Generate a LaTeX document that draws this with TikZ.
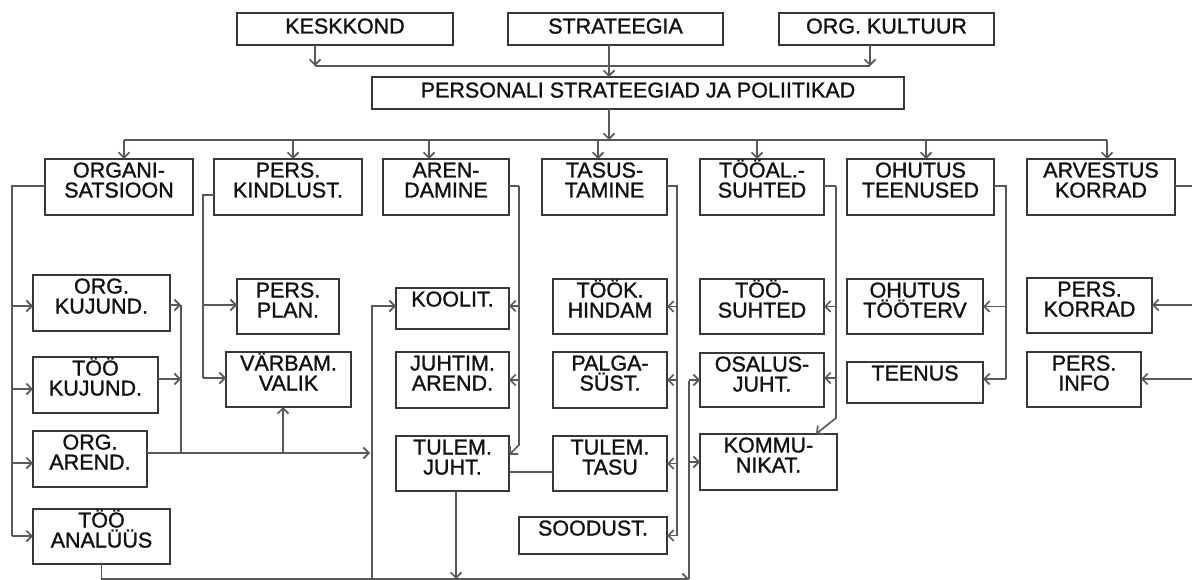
\documentclass[tikz,border=0pt]{standalone}
\usepackage{fontspec}
\setmainfont{Liberation Sans}[FakeBold=1.2]
\usetikzlibrary{arrows.meta}
\definecolor{framegray}{HTML}{383838}
\definecolor{wiregray}{HTML}{585858}
\definecolor{ink}{HTML}{121212}
\tikzset{
  boxframe/.style={draw=framegray, line width=2pt, inner sep=0pt, outer sep=0pt, anchor=north west},
  boxlabel/.style={font=\fontsize{21.5pt}{20pt}\selectfont, text=ink, align=center, inner sep=0pt, outer sep=0pt, anchor=north},
  wire/.style={draw=wiregray, line width=1.7pt},
  feed/.style={wire, -{Straight Barb[length=5.5pt,width=11pt]}},
}
% \chartbox{name}{x1}{y1}{x2}{y2}{line 1}{line 2}
\newcommand\labeldrop{18.5pt}
\newcommand\chartbox[7]{%
  \node[boxframe, minimum width={#4-#2}, minimum height={#5-#3}] (#1) at (#2,#3) {};
  \node[boxlabel] (#1t) at ([yshift=-\labeldrop]#1.north) {\smash{#6}\\\smash{#7}};}
\begin{document}
\begin{tikzpicture}[x=1pt,y=-1pt]
\clip (0,0) rectangle (1192,580);
\fill[white] (0,0) rectangle (1192,580);

% top level
\renewcommand\labeldrop{20.5pt}
\chartbox{kesk}{237}{13}{453}{45}{KESKKOND}{}
\chartbox{strat}{508}{13}{723}{45}{STRATEEGIA}{}
\chartbox{kult}{779}{13}{994}{45}{ORG. KULTUUR}{}
\chartbox{pers}{372}{77}{904}{109}{PERSONALI STRATEEGIAD JA POLIITIKAD}{}
\renewcommand\labeldrop{18.5pt}

% functional areas
\chartbox{org}{45}{159}{193}{215}{ORGANI-}{SATSIOON}
\chartbox{kind}{214}{159}{362}{215}{PERS.}{KINDLUST.}
\chartbox{aren}{383}{159}{509}{215}{AREN-}{DAMINE}
\chartbox{tasus}{542}{159}{667}{215}{TASUS-}{TAMINE}
\chartbox{tooal}{700}{159}{824}{215}{TÖÖAL.-}{SUHTED}
\chartbox{ohut}{847}{159}{994}{215}{OHUTUS}{TEENUSED}
\chartbox{arv}{1027}{159}{1175}{215}{ARVESTUS}{KORRAD}

% activities
\chartbox{kuj}{33}{275}{170}{331}{ORG.}{KUJUND.}
\chartbox{tkuj}{33}{357}{158}{413}{TÖÖ}{KUJUND.}
\chartbox{orgar}{33}{431}{147}{487}{ORG.}{AREND.}
\chartbox{ana}{33}{509}{170}{564}{TÖÖ}{ANALÜÜS}
\chartbox{plan}{237}{279}{339}{334}{PERS.}{PLAN.}
\chartbox{varb}{226}{352}{351}{407}{VÄRBAM.}{VALIK}
\chartbox{kool}{396}{288}{509}{329}{KOOLIT.}{}
\chartbox{juht}{396}{352}{509}{408}{JUHTIM.}{AREND.}
\chartbox{tjuht}{396}{436}{509}{491}{TULEM.}{JUHT.}
\chartbox{hind}{553}{279}{667}{334}{TÖÖK.}{HINDAM}
\chartbox{palk}{553}{352}{667}{408}{PALGA-}{SÜST.}
\chartbox{ttasu}{553}{436}{667}{491}{TULEM.}{TASU}
\chartbox{sood}{519}{517}{667}{554}{SOODUST.}{}
\chartbox{tsuht}{700}{279}{824}{334}{TÖÖ-}{SUHTED}
\chartbox{osal}{700}{353}{824}{407}{OSALUS-}{JUHT.}
\chartbox{komm}{700}{434}{837}{490}{KOMMU-}{NIKAT.}
\chartbox{tervis}{847}{279}{983}{334}{OHUTUS}{TÖÖTERV}
\chartbox{teen}{847}{362}{983}{403}{TEENUS}{}
\chartbox{pkor}{1027}{278}{1152}{333}{PERS.}{KORRAD}
\chartbox{pinfo}{1027}{352}{1141}{407}{PERS.}{INFO}

% inputs to the personnel strategy
\coordinate (kd) at (315,66);
\coordinate (kud) at (870,66);
\draw[feed] (kesk.south -| kd) -- (kd);
\draw[feed] (kult.south -| kud) -- (kud);
\draw[wire] (kd) -- (kud);
\draw[feed] ([xshift=-6.5pt]strat.south) -- ([xshift=-6.5pt]strat.south |- pers.north);

% distribution bus
\coordinate (bus) at (609,140);
\draw[feed] (pers.south -| bus) -- (bus);
\coordinate (b1) at (124,140);
\coordinate (b2) at (293,140);
\coordinate (b3) at (429,140);
\coordinate (b4) at (598,140);
\coordinate (b5) at (757,140);
\coordinate (b6) at (926,140);
\coordinate (b7) at (1107,140);
\draw[wire] (b1) -- (b7);
\foreach \b/\n in {b1/org,b2/kind,b3/aren,b4/tasus,b5/tooal,b6/ohut,b7/arv}
  \draw[feed] (\b) -- (\b |- \n.north);

% organisation branch
\coordinate (ot) at (12,186);
\draw[wire] (org.west |- ot) -- (ot) -- (ot |- 0,536);
\draw[feed] (ot |- 0,306) -- (kuj.west |- 0,306);
\draw[feed] (ot |- 0,389) -- (tkuj.west |- 0,389);
\draw[feed] (ot |- 0,463) -- (orgar.west |- 0,463);
\draw[feed] (ot |- 0,536) -- (ana.west |- 0,536);
\coordinate (kt) at (181,305);
\coordinate (oa) at (370,453);
\coordinate (vu) at (283,453);
\draw[feed] (kuj.east |- kt) -- (kt);
\draw[feed] (tkuj.east |- 0,379) -- (kt |- 0,379);
\draw[wire] (kt) -- (kt |- oa);
\draw[feed] (orgar.east |- oa) -- (oa);
\draw[feed] (vu) -- (vu |- varb.south);

% staffing branch
\coordinate (st2) at (203,195);
\draw[wire] (kind.west |- st2) -- (st2) -- (st2 |- 0,378);
\draw[feed] (st2 |- 0,305) -- (plan.west |- 0,305);
\draw[feed] (st2 |- 0,378) -- (varb.west |- 0,378);

% bottom return line
\coordinate (bl) at (372,579);
\coordinate (br) at (689,579);
\coordinate (tj) at (456,579);
\draw[feed] (ana.south) |- (br);
\draw[feed] (bl) |- (kool.west |- 0,306);
\draw[feed] (tj |- tjuht.south) -- (tj);
\draw[wire] (br) -- (br |- 0,381);
\draw[feed] (br |- osal.west) -- (osal.west);
\draw[feed] (br |- komm.west) -- (komm.west);

% development branch
\coordinate (at) at (519,186);
\draw[wire] (aren.east |- at) -- (at);
\draw[feed] (at) -- (at |- 0,445) -- (tjuht.east |- 0,455);
\draw[feed] (at |- 0,306) -- (kool.east |- 0,306);
\draw[feed] (at |- juht.east) -- (juht.east);
\draw[wire] (tjuht.east |- 0,472) -- (ttasu.west |- 0,472);

% reward branch
\coordinate (tt) at (677,186);
\draw[wire] (tasus.east |- tt) -- (tt) -- (tt |- sood.east);
\foreach \n in {hind,palk,ttasu,sood}
  \draw[feed] (tt |- \n.east) -- (\n.east);

% employee relations branch
\coordinate (rt1) at (836,186);
\draw[wire] (tooal.east |- rt1) -- (rt1);
\draw[feed] (rt1) -- (rt1 |- 0,418) -- (komm.north -| 816,0);
\draw[feed] (rt1 |- tsuht.east) -- (tsuht.east);
\draw[feed] (rt1 |- 0,378) -- (osal.east |- 0,378);

% health and safety branch
\coordinate (ht) at (1006,186);
\draw[wire] (ohut.east |- ht) -- (ht) -- (ht |- 0,379);
\draw[feed] (ht |- tervis.east) -- (tervis.east);
\draw[feed] (ht |- 0,379) -- (teen.east |- 0,379);

% records branch
\coordinate (rt) at (1200,186);
\draw[wire] (arv.east |- rt) -- (rt) -- (rt |- 0,380);
\draw[feed] (rt |- 0,305) -- (pkor.east |- 0,305);
\draw[feed] (rt |- 0,379) -- (pinfo.east |- 0,379);
\end{tikzpicture}
\end{document}
